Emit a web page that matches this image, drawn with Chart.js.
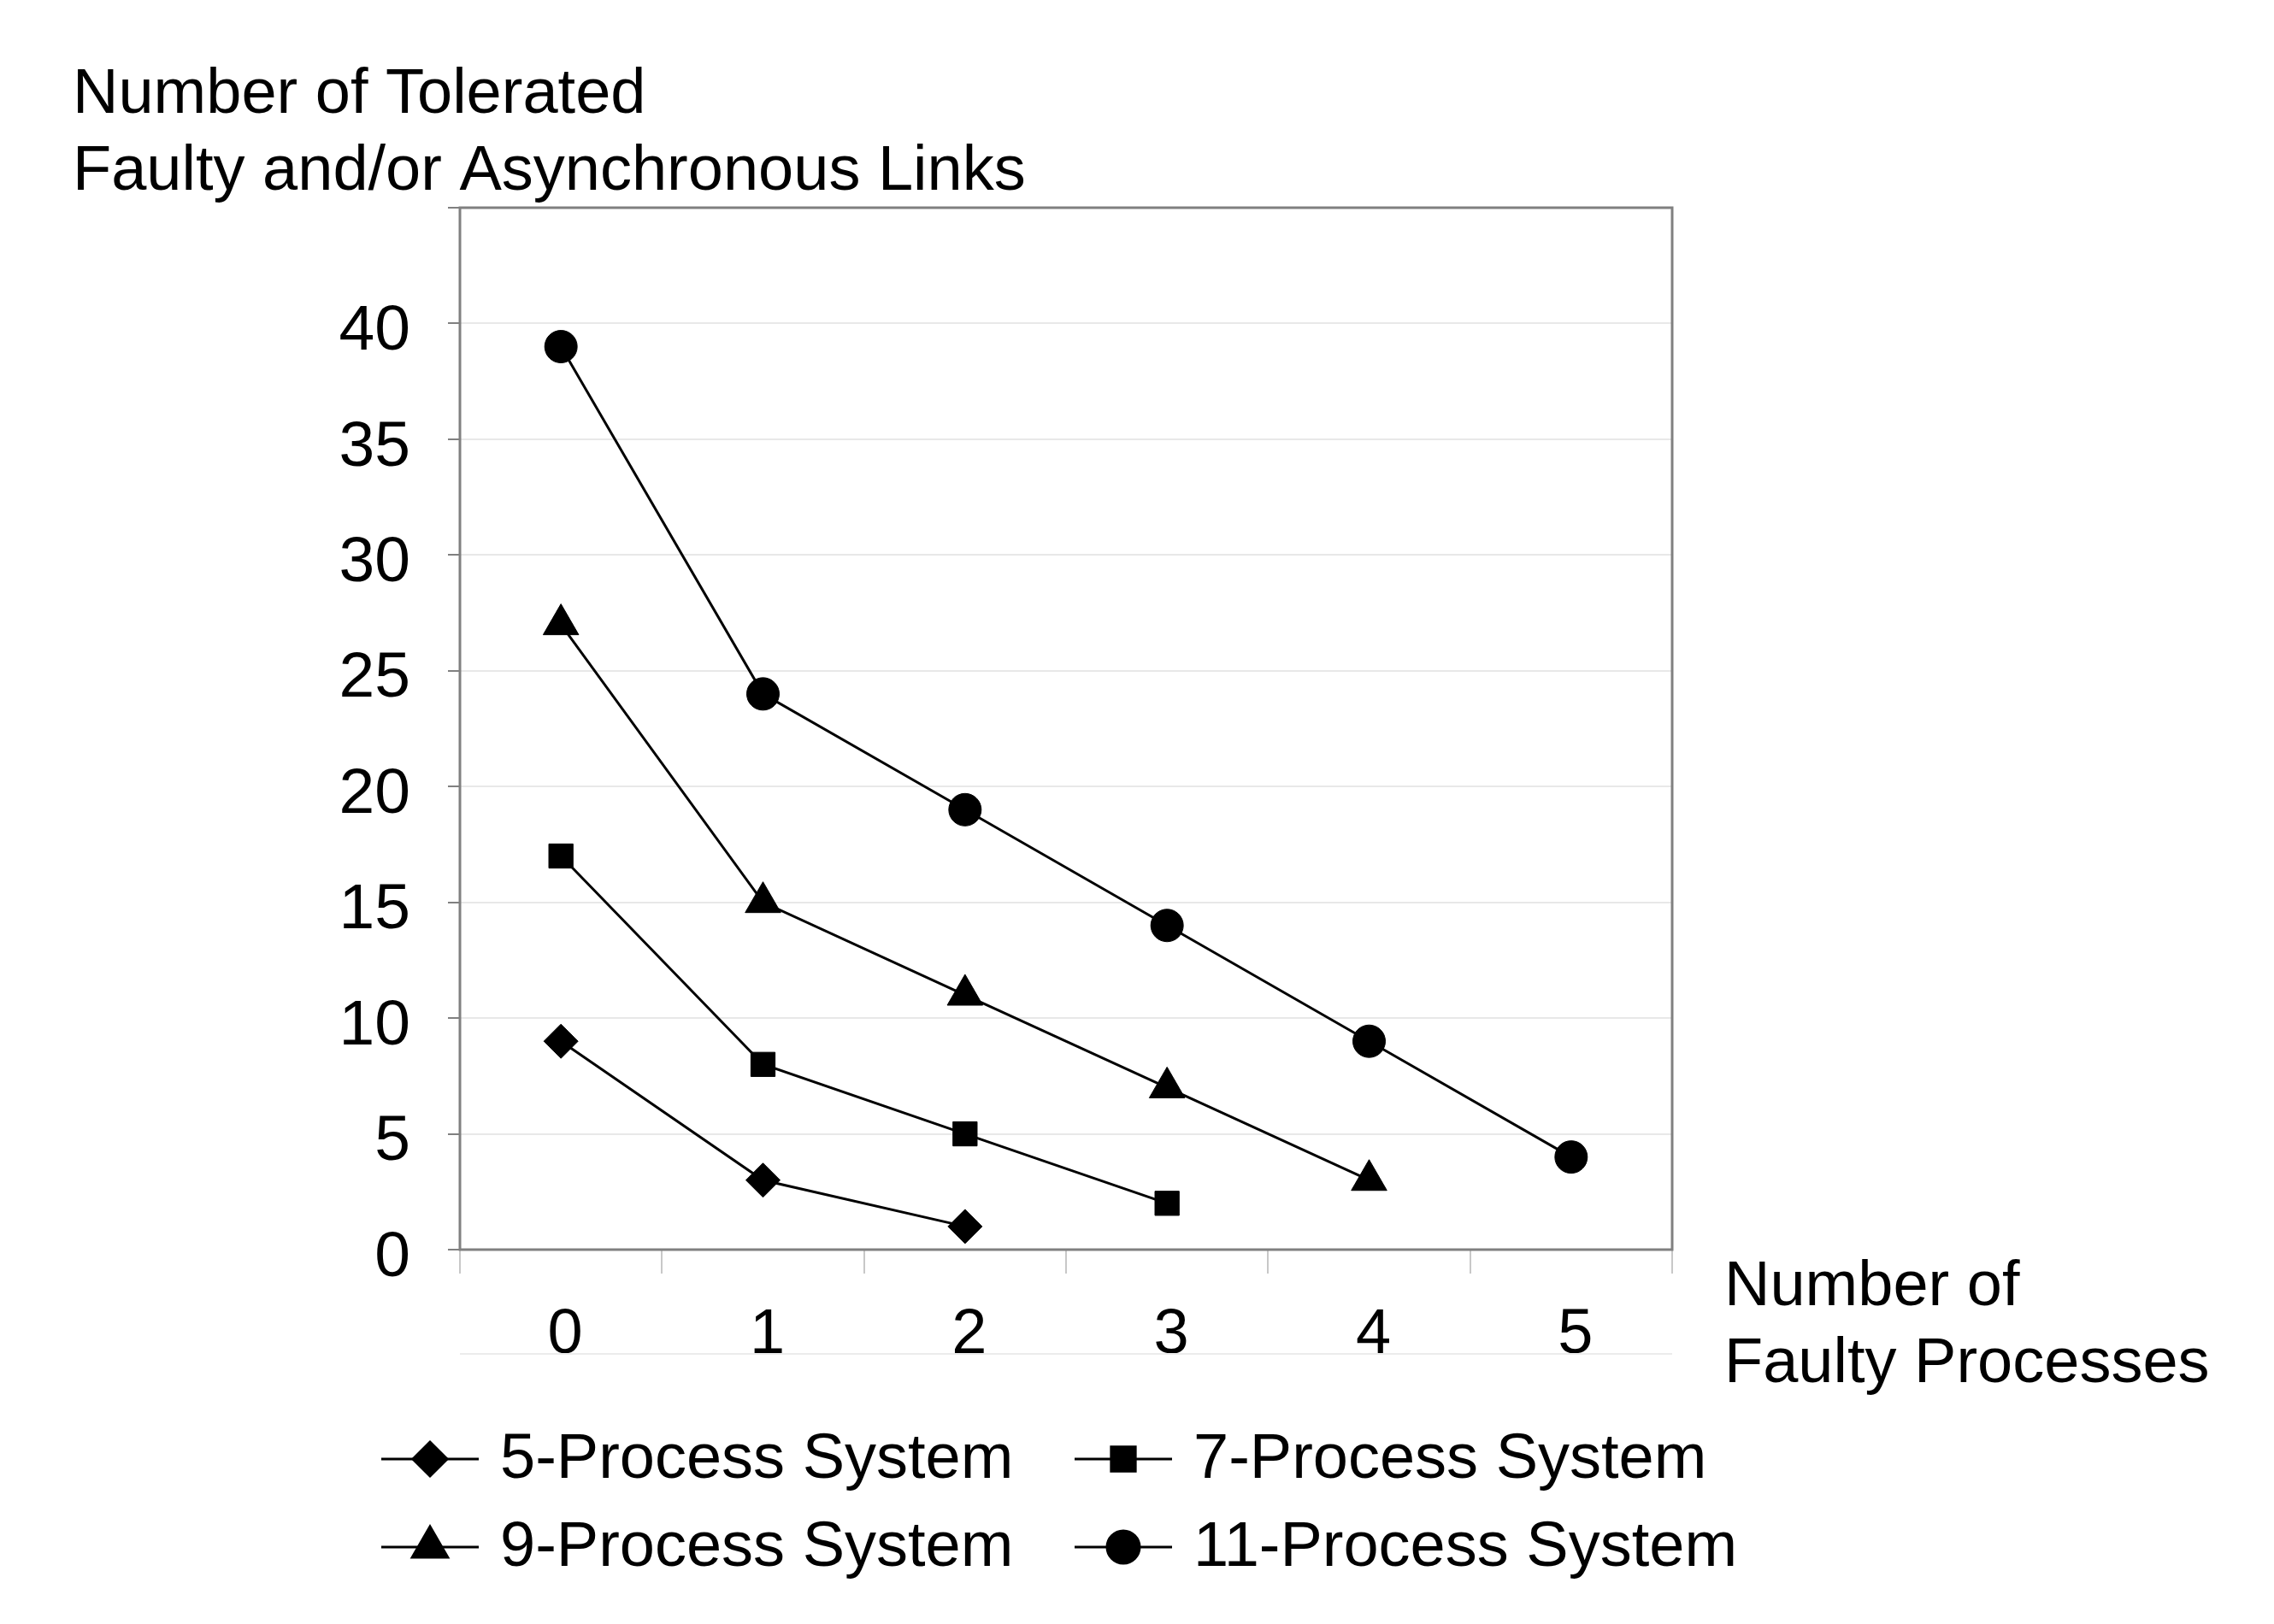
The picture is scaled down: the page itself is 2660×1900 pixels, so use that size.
<!DOCTYPE html>
<html>
<head>
<meta charset="utf-8">
<script src="https://cdn.jsdelivr.net/npm/chart.js@4.4.0/dist/chart.umd.min.js"></script>
<style>html,body{margin:0;padding:0;background:#fff}</style>
</head>
<body>
<canvas id="myChart" width="2660" height="1900" style="width:2660px;height:1900px"></canvas>
<script>
const faultyProcs = ['0', '1', '2', '3', '4', '5'];
const sys5 = [9, 3, 1];
const sys7 = [17, 8, 5, 2];
const sys9 = [27, 15, 11, 7, 3];
const sys11 = [39, 24, 19, 14, 9, 4];
const seriesNames = ['5-Process System', '7-Process System', '9-Process System', '11-Process System'];
const yTitle = ['Number of Tolerated', 'Faulty and/or Asynchronous Links'];
const xTitle = ['Number of', 'Faulty Processes'];

const FONT = '"Liberation Sans", Arial, sans-serif';

function series(label, data, style, radius) {
  return {
    label: label,
    data: data,
    borderColor: '#000',
    backgroundColor: '#000',
    borderWidth: 3,
    pointStyle: style,
    pointRadius: radius,
    pointHoverRadius: radius,
    pointBackgroundColor: '#000',
    pointBorderColor: '#000',
    pointBorderWidth: 1,
    fill: false,
    tension: 0
  };
}

// box, titles and legend
const decor = {
  id: 'decor',
  beforeDatasetsDraw(chart) {
    const { ctx, chartArea: a } = chart;
    ctx.save();
    ctx.strokeStyle = '#808080';
    ctx.lineWidth = 3;
    ctx.strokeRect(a.left, a.top, a.right - a.left, a.bottom - a.top);
    ctx.strokeStyle = '#ececec';
    ctx.lineWidth = 2;
    ctx.beginPath();
    ctx.moveTo(a.left, 1584);
    ctx.lineTo(a.right, 1584);
    ctx.stroke();
    ctx.restore();
  },
  afterDraw(chart) {
    const ctx = chart.ctx;
    ctx.save();
    ctx.fillStyle = '#000';
    ctx.font = '74px ' + FONT;
    ctx.textAlign = 'left';
    ctx.textBaseline = 'alphabetic';
    ctx.fillText(yTitle[0], 85, 132);
    ctx.fillText(yTitle[1], 85, 222);
    ctx.fillText(xTitle[0], 2017, 1527);
    ctx.fillText(xTitle[1], 2017, 1617);

    // legend: line + marker + text, 2 columns
    const cols = [446, 1257];
    const rows = [1707, 1810];
    chart.data.datasets.forEach((ds, i) => {
      const x0 = cols[i % 2];
      const y = rows[Math.floor(i / 2)];
      ctx.strokeStyle = '#000';
      ctx.lineWidth = 3;
      ctx.beginPath();
      ctx.moveTo(x0, y);
      ctx.lineTo(x0 + 114, y);
      ctx.stroke();
      ctx.fillStyle = '#000';
      Chart.helpers.drawPoint(ctx, { pointStyle: ds.pointStyle, radius: ds.pointRadius, rotation: 0, borderWidth: 1 }, x0 + 57, y);
      ctx.fillStyle = '#000';
      ctx.font = '74px ' + FONT;
      ctx.textBaseline = 'middle';
      ctx.fillText(seriesNames[i], x0 + 139, y + 2);
    });
    ctx.restore();
  }
};

const ctx = document.getElementById('myChart');

new Chart(ctx, {
  type: 'line',
  data: {
    labels: faultyProcs,
    datasets: [
      series(seriesNames[0], sys5, 'rectRot', 20),
      series(seriesNames[1], sys7, 'rect', 20),
      series(seriesNames[2], sys9, 'triangle', 24),
      series(seriesNames[3], sys11, 'circle', 19)
    ]
  },
  options: {
    responsive: false,
    animation: false,
    layout: {
      padding: { left: 0, top: 243, right: 704, bottom: 298 }
    },
    plugins: {
      legend: { display: false },
      title: { display: false },
      tooltip: { enabled: false }
    },
    scales: {
      x: {
        type: 'category',
        offset: true,
        grid: {
          offset: true,
          drawOnChartArea: false,
          drawTicks: true,
          tickLength: 28,
          tickColor: '#c8c8c8',
          lineWidth: 2
        },
        border: { display: false },
        ticks: {
          color: '#000',
          font: { family: FONT, size: 74 },
          padding: 28,
          labelOffset: 5,
          maxRotation: 0
        },
        afterFit(scale) { scale.height = 140; }
      },
      y: {
        min: 0,
        max: 45,
        grid: {
          color: '#e8e8e8',
          lineWidth: 2,
          tickLength: 14,
          tickColor: '#808080'
        },
        border: { display: false },
        ticks: {
          stepSize: 5,
          color: '#000',
          font: { family: FONT, size: 75 },
          padding: 44,
          labelOffset: 10,
          callback: v => (v === 45 ? '' : v)
        },
        afterFit(scale) { scale.width = 538; }
      }
    }
  },
  plugins: [decor]
});
</script>
</body>
</html>
